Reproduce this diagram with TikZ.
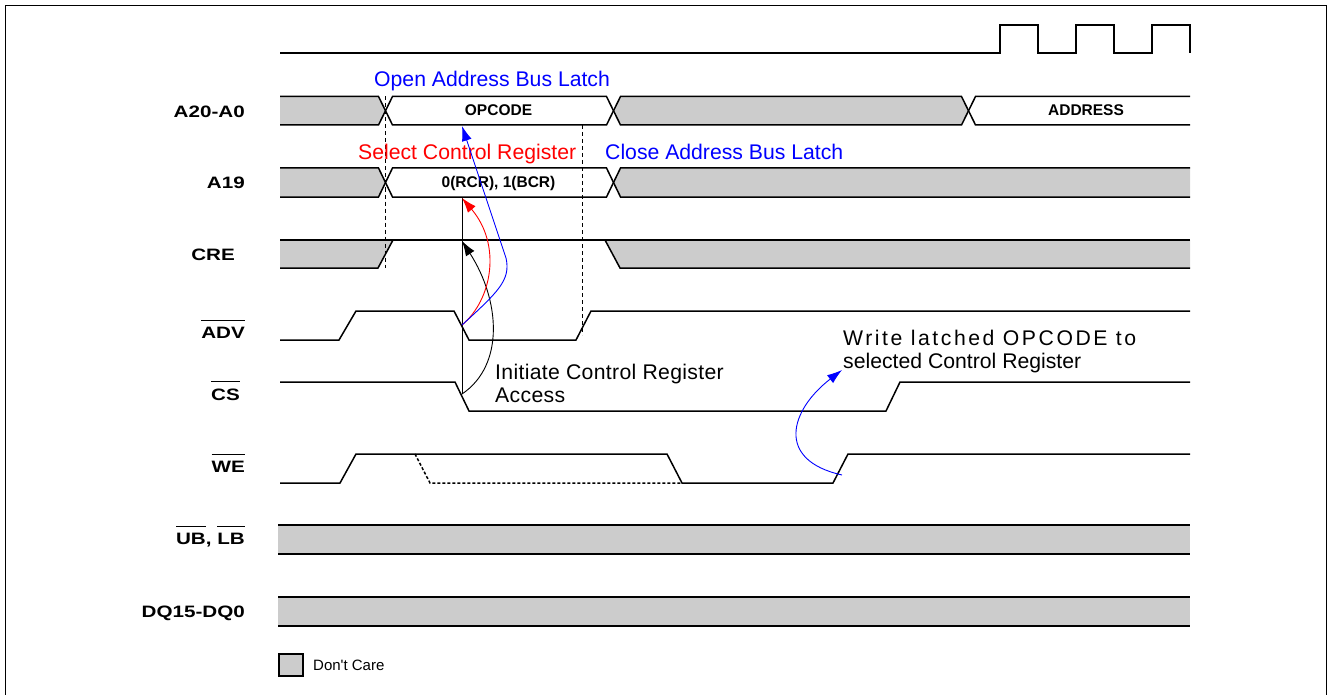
\documentclass[tikz,border=0pt]{standalone}
\usepackage{fontspec}
\setmainfont{Liberation Sans}
\newfontfamily\sigfont[FakeStretch=1.25]{Liberation Sans}
\newfontfamily\wrfont[LetterSpace=12]{Liberation Sans}
\newfontfamily\initfont[LetterSpace=1.5]{Liberation Sans}
\usepackage{tikz}
\usetikzlibrary{arrows,arrows.meta}
\definecolor{dcgray}{HTML}{CCCCCC}
\newcommand{\ovbar}[1]{\vbox{\hrule height 1.1pt \kern 6pt \hbox{#1}}}
\tikzstyle{wave} = [line width=1.5pt, line join=miter]
\tikzstyle{dcare} = [fill=dcgray, draw=none]
\tikzstyle{guide} = [line width=1.1pt, dash pattern=on 4pt off 3pt]
\tikzstyle{signame} = [anchor=base east, inner sep=0pt,
    font=\sigfont\bfseries\fontsize{16.5}{19}\selectfont]
\tikzstyle{busval} = [anchor=base, inner sep=0pt,
    font=\bfseries\fontsize{15.5}{18}\selectfont]
\tikzstyle{remark} = [anchor=base west, inner sep=0pt,
    font=\fontsize{21.2}{24}\selectfont]
\tikzstyle{cue} = [line width=0.9pt, -{Latex[length=15pt,width=10pt]}]
\begin{document}
\begin{tikzpicture}[x=1pt,y=-1pt]
  \useasboundingbox (0,0) rectangle (1329,695);
  \draw[line width=1.2pt] (5.5,700) -- (5.5,5.5) -- (1326.5,5.5) -- (1326.5,700);

  % clock
  \draw[wave] (280,53) -- (1000,53) -- (1000,25) -- (1038,25) -- (1038,53)
    -- (1076,53) -- (1076,25) -- (1114,25) -- (1114,53)
    -- (1152,53) -- (1152,25) -- (1190,25) -- (1190,53);

  % A20-A0
  \fill[dcare] (280,96.5) -- (378.5,96.5) -- (385.5,110.75) -- (378.5,125) -- (280,125) -- cycle;
  \fill[dcare] (613.5,110.75) -- (620.5,96.5) -- (961.5,96.5) -- (968.5,110.75)
    -- (961.5,125) -- (620.5,125) -- cycle;
  \draw[wave] (280,96.5) -- (378.5,96.5) -- (392.5,125) -- (606.5,125) -- (620.5,96.5)
    -- (961.5,96.5) -- (975.5,125) -- (1190,125);
  \draw[wave] (280,125) -- (378.5,125) -- (392.5,96.5) -- (606.5,96.5) -- (620.5,125)
    -- (961.5,125) -- (975.5,96.5) -- (1190,96.5);

  % A19
  \fill[dcare] (280,168) -- (378.5,168) -- (385.5,182.5) -- (378.5,197) -- (280,197) -- cycle;
  \fill[dcare] (613.5,182.5) -- (620.5,168) -- (1190,168) -- (1190,197) -- (620.5,197) -- cycle;
  \draw[wave] (280,168) -- (378.5,168) -- (392.5,197) -- (606.5,197) -- (620.5,168) -- (1190,168);
  \draw[wave] (280,197) -- (378.5,197) -- (392.5,168) -- (606.5,168) -- (620.5,197) -- (1190,197);

  % CRE
  \fill[dcare] (280,240) -- (393,240) -- (378,268) -- (280,268) -- cycle;
  \fill[dcare] (605,240) -- (1190,240) -- (1190,268) -- (620,268) -- cycle;
  \draw[wave] (280,240) -- (1190,240);
  \draw[wave] (280,268) -- (378,268) -- (393,240);
  \draw[wave] (605,240) -- (620,268) -- (1190,268);

  % ADV#, CS#, WE#
  \draw[wave] (280,340) -- (339,340) -- (356,311) -- (454,311) -- (469,340)
    -- (576,340) -- (591,311) -- (1190,311);
  \draw[wave] (280,382) -- (455,382) -- (469,411) -- (886,411) -- (900,382) -- (1190,382);
  \draw[wave] (280,483) -- (340,483) -- (356,454) -- (667,454) -- (682,483)
    -- (833,483) -- (848,454) -- (1190,454);
  \draw[wave, dash pattern=on 3pt off 2pt] (415,454) -- (430,483) -- (682,483);

  % UB#, LB# and DQ
  \fill[dcare] (278,525) rectangle (1190,554);
  \draw[wave] (278,525) -- (1190,525) (278,554) -- (1190,554);
  \fill[dcare] (278,597) rectangle (1190,626);
  \draw[wave] (278,597) -- (1190,597) (278,626) -- (1190,626);

  % timing guides
  \draw[guide] (385.5,96.5) -- (385.5,268);
  \draw[guide] (582.5,125) -- (582.5,335);
  \draw[line width=0.6pt] (462,197) -- (462,394);

  % signal names
  \node[signame] (nA20) at (245,117.5) {A20-A0};
  \node[signame] (nA19) at (245,189) {A19};
  \node[signame] (nCRE) at (235,260) {CRE};
  \node[signame] (nADV) at (245,338) {\ovbar{ADV}};
  \node[signame] (nCS) at (240,400) {\ovbar{CS}};
  \node[signame] (nWE) at (245,472) {\ovbar{WE}};
  \node[signame] (nUBLB) at (245,544) {\ovbar{UB}, \ovbar{LB}};
  \node[signame] (nDQ) at (245,617) {DQ15-DQ0};

  % bus values
  \node[busval] (vOp) at (498.5,115.5) {OPCODE};
  \node[busval] (vAddr) at (1086,115.5) {ADDRESS};
  \node[busval] (vSel) at (498.5,187) {0(RCR), 1(BCR)};

  % remarks
  \node[remark, text=blue] (tOpen) at (374,87) {Open Address Bus Latch};
  \node[remark, text=red] (tSel) at (358,160) {Select Control Register};
  \node[remark, text=blue] (tClose) at (605,160) {Close Address Bus Latch};
  \node[remark, font=\initfont\fontsize{21.2}{24}\selectfont] (tInit) at (495,379) {Initiate Control Register};
  \node[remark, font=\initfont\fontsize{21.2}{24}\selectfont] (tAcc) at (495,402) {Access};
  \node[remark, font=\wrfont\fontsize{21.2}{24}\selectfont] (tWr) at (843,345) {Write latched OPCODE to};
  \node[remark] (tSelReg) at (843,368) {selected Control Register};

  % arrows
  \coordinate (csFall) at (462,394);
  \coordinate (advFall) at (462,325);
  \coordinate (creTop) at (462,241);
  \coordinate (a19Bot) at (462,198);
  \coordinate (a20Bot) at (462,126);
  \coordinate (weRise) at (842,475);
  \coordinate (wrNote) at (842,370);
  \draw[cue] (csFall) .. controls (505,365) and (500,300) .. (creTop);
  \draw[cue, red] (advFall) .. controls (492,300) and (502,245) .. (a19Bot);
  \draw[cue, blue] (advFall) .. controls (498,292) and (511,280) .. (506,258) -- (a20Bot);
  \draw[cue, blue] (weRise) .. controls (775,460) and (790,410) .. (wrNote);

  % legend
  \node[draw, line width=1.2pt, fill=dcgray, minimum width=24pt, minimum height=22pt,
    inner sep=0pt] (key) at (291,665) {};
  \node[anchor=base west, inner sep=0pt, font=\fontsize{15}{18}\selectfont] (keyText)
    at (313,670) {Don\textquotesingle t Care};
\end{tikzpicture}
\end{document}
